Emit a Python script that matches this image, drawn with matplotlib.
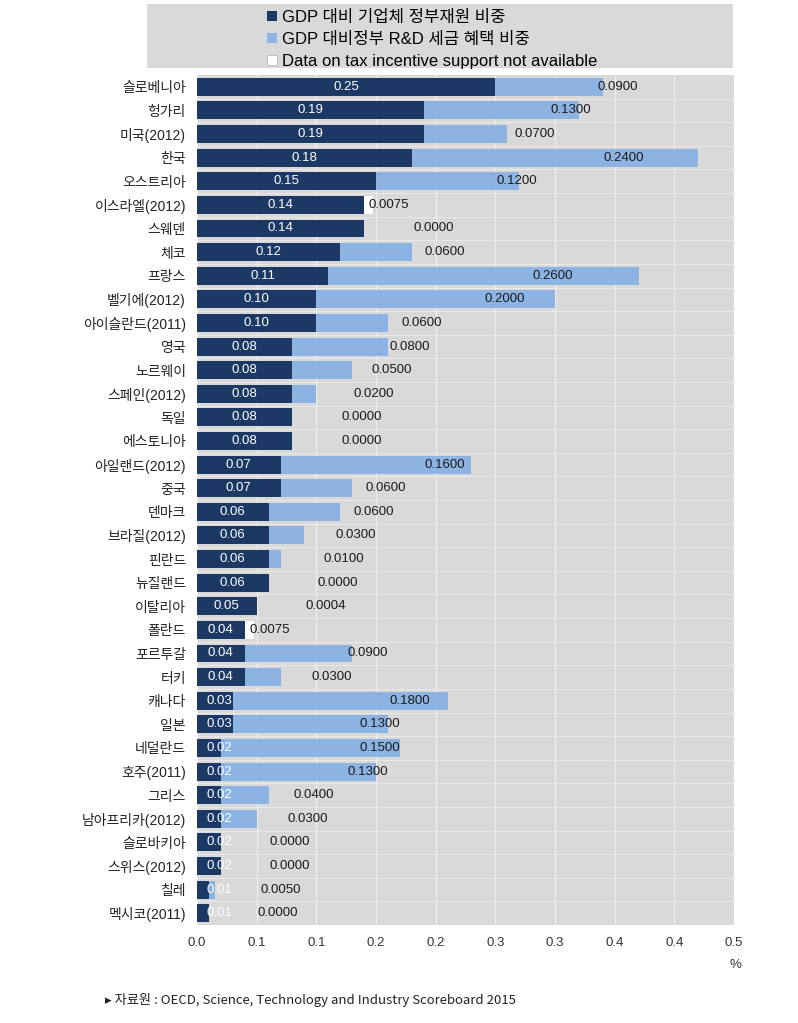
import matplotlib
matplotlib.use('Agg')
import matplotlib.pyplot as plt
from matplotlib.patches import Patch
import numpy as np

plt.rcParams['font.family'] = ['Liberation Sans', 'Noto Sans CJK KR', 'DejaVu Sans']

countries = ['슬로베니아', '헝가리', '미국(2012)', '한국', '오스트리아', '이스라엘(2012)', '스웨덴',
             '체코', '프랑스', '벨기에(2012)', '아이슬란드(2011)', '영국', '노르웨이', '스페인(2012)',
             '독일', '에스토니아', '아일랜드(2012)', '중국', '덴마크', '브라질(2012)', '핀란드',
             '뉴질랜드', '이탈리아', '폴란드', '포르투갈', '터키', '캐나다', '일본', '네덜란드',
             '호주(2011)', '그리스', '남아프리카(2012)', '슬로바키아', '스위스(2012)', '칠레',
             '멕시코(2011)']
direct = [0.25, 0.19, 0.19, 0.18, 0.15, 0.14, 0.14, 0.12, 0.11, 0.10, 0.10, 0.08, 0.08, 0.08,
          0.08, 0.08, 0.07, 0.07, 0.06, 0.06, 0.06, 0.06, 0.05, 0.04, 0.04, 0.04, 0.03, 0.03,
          0.02, 0.02, 0.02, 0.02, 0.02, 0.02, 0.01, 0.01]
tax = [0.09, 0.13, 0.07, 0.24, 0.12, 0.0075, 0.0, 0.06, 0.26, 0.20, 0.06, 0.08, 0.05, 0.02,
       0.0, 0.0, 0.16, 0.06, 0.06, 0.03, 0.01, 0.0, 0.0004, 0.0075, 0.09, 0.03, 0.18, 0.13,
       0.15, 0.13, 0.04, 0.03, 0.0, 0.0, 0.005, 0.0]
# countries where tax incentive data is not available
not_available = ['이스라엘(2012)', '폴란드']

xticks = [0.0, 0.05, 0.10, 0.15, 0.20, 0.25, 0.30, 0.35, 0.40, 0.45]
xticklabels = ['0.0', '0.1', '0.1', '0.2', '0.2', '0.3', '0.3', '0.4', '0.4', '0.5']

legend_labels = ['GDP 대비 기업체 정부재원 비중', 'GDP 대비정부 R&D 세금 혜택 비중',
                 'Data on tax incentive support not available']

DARK = '#1b3964'
LIGHT = '#8db3e2'
BG = '#d9d9d9'

fig = plt.figure(figsize=(7.98, 10.23), dpi=100)
ax = fig.add_axes([197 / 798, 1 - 925 / 1023, 537 / 798, 850 / 1023])
ax.set_facecolor(BG)

y = np.arange(len(countries))
direct = np.array(direct)
tax = np.array(tax)
light_colors = ['white' if c in not_available else LIGHT for c in countries]

ax.barh(y, direct, height=0.76, color=DARK, zorder=3)
ax.barh(y, tax, left=direct, height=0.76, color=light_colors, zorder=3)

for i in range(len(countries)):
    ax.text(max(direct[i] / 2, 0.019), y[i], f'{direct[i]:.2f}', ha='center', va='center',
            color='white', fontsize=9.5, zorder=5)
    if countries[i] in not_available:
        ax.text(direct[i] + 0.004, y[i], f'{tax[i]:.4f}', ha='left', va='center',
                color='#1a1a1a', fontsize=9.5, zorder=5)
    else:
        ax.text(direct[i] + tax[i] / 2 + 0.058, y[i], f'{tax[i]:.4f}', ha='center', va='center',
                color='#1a1a1a', fontsize=9.5, zorder=5)

ax.set_xlim(0, 0.45)
ax.set_ylim(len(countries) - 0.5, -0.5)
ax.set_yticks(y)
ax.set_yticklabels(countries, fontsize=10, color='#222222')
ax.set_xticks(xticks)
ax.set_xticklabels(xticklabels, fontsize=9.5, color='#333333')
ax.tick_params(axis='both', length=0)
ax.tick_params(axis='y', pad=8)
ax.tick_params(axis='x', pad=9)
for x in xticks:
    ax.axvline(x, color='white', lw=0.9, alpha=0.55, zorder=1)
for b in np.arange(0.5, len(countries) - 0.5, 1):
    ax.axhline(b, color='white', lw=0.7, alpha=0.45, zorder=1)
for s in ax.spines.values():
    s.set_visible(False)

fig.text(735 / 798, 1 - 965 / 1023, '%', ha='center', va='center', fontsize=9.5, color='#333333')

# legend box
lax = fig.add_axes([147 / 798, 1 - 68 / 1023, 586 / 798, 64 / 1023])
lax.set_facecolor(BG)
lax.set_xticks([])
lax.set_yticks([])
for s in lax.spines.values():
    s.set_visible(False)
handles = [Patch(facecolor=DARK), Patch(facecolor=LIGHT),
           Patch(facecolor='white', edgecolor='#aaaaaa', linewidth=0.5)]
lax.legend(handles, legend_labels, loc='center left', bbox_to_anchor=(0.19, 0.45),
           frameon=False, fontsize=12, handlelength=0.6, handleheight=0.6,
           handletextpad=0.3, labelspacing=0.42, borderpad=0)

fig.text(105 / 798, 1 - 1000 / 1023,
         '▸ 자료원 : OECD, Science, Technology and Industry Scoreboard 2015',
         ha='left', va='center', fontsize=9.5, color='#222222',
         family=['Noto Sans CJK KR', 'DejaVu Sans'])

fig.savefig('out.png', dpi=100)
